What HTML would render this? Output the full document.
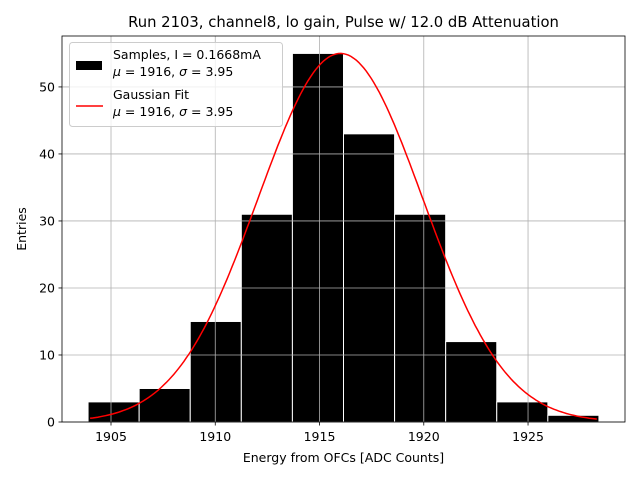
<!DOCTYPE html>
<html><head><meta charset="utf-8"><style>
body{margin:0;background:#fff}
svg text{font-family:"DejaVu Sans","Liberation Sans",sans-serif;fill:#000}
</style></head><body>
<svg id="c" width="640" height="480" xmlns="http://www.w3.org/2000/svg">
<rect width="640" height="480" fill="#fff"/>
<text x="343.5" y="27" font-size="14.8" text-anchor="middle">Run 2103, channel8, lo gain, Pulse w/ 12.0 dB Attenuation</text>
<g id="bars"></g><g id="grid"></g><g id="fit"></g><g id="axes"></g>
<g>
<rect x="69.5" y="42.5" width="213" height="84" rx="3" fill="#fff" fill-opacity="0.8" stroke="#ccc"/>
<rect x="76" y="61" width="26" height="9" fill="#000"/>
<text x="113" y="59" font-size="12.5">Samples, I = 0.1668mA</text>
<text x="113" y="76" font-size="12.5"><tspan font-style="italic">μ</tspan> = 1916, <tspan font-style="italic">σ</tspan> = 3.95</text>
<line x1="76" y1="106" x2="103" y2="106" stroke="red" stroke-width="1.5"/>
<text x="113" y="99" font-size="12.5">Gaussian Fit</text>
<text x="113" y="116" font-size="12.5"><tspan font-style="italic">μ</tspan> = 1916, <tspan font-style="italic">σ</tspan> = 3.95</text>
</g>
<text x="343.5" y="462" font-size="12.5" text-anchor="middle">Energy from OFCs [ADC Counts]</text>
<text transform="translate(26,229) rotate(-90)" font-size="12.5" text-anchor="middle">Entries</text>
</svg>
<script>
const counts=[3,5,15,31,55,43,31,12,3,1];
const binStart=1903.9;
const binWidth=2.45;
const xTicks=[1905,1910,1915,1920,1925];
const yTicks=[0,10,20,30,40,50];
const fitMu=1916.0, fitSigma=3.95, fitAmp=55;
const fitRange=[1904,1928.3];
const L=62,R=625,T=36,B=422,xmin=1902.65,xmax=1929.65,ymax=57.6;
const X=v=>L+(v-xmin)/(xmax-xmin)*(R-L);
const Y=v=>B-v/ymax*(B-T);
const NS="http://www.w3.org/2000/svg";
function mk(p,t,a){const e=document.createElementNS(NS,t);for(const k in a)e.setAttribute(k,a[k]);document.getElementById(p).appendChild(e);return e;}
counts.forEach((c,i)=>{const x0=X(binStart+i*binWidth),x1=X(binStart+(i+1)*binWidth);
const r=mk('bars','rect',{x:x0,y:Y(c),width:x1-x0,height:Y(0)-Y(c),fill:'#000',stroke:'#fff','stroke-width':1});

});
xTicks.forEach(t=>{const l=mk('grid','line',{x1:X(t),x2:X(t),y1:T,y2:B,stroke:'#b0b0b0','stroke-width':0.8});


mk('axes','line',{x1:X(t),x2:X(t),y1:B,y2:B+3.5,stroke:'#000','stroke-width':0.8});
const tx=mk('axes','text',{x:X(t),y:B+19,'font-size':12.5,'text-anchor':'middle'});tx.textContent=t;

});
yTicks.forEach(t=>{const l=mk('grid','line',{x1:L,x2:R,y1:Y(t),y2:Y(t),stroke:'#b0b0b0','stroke-width':0.8});


mk('axes','line',{x1:L-3.5,x2:L,y1:Y(t),y2:Y(t),stroke:'#000','stroke-width':0.8});
const tx=mk('axes','text',{x:L-7,y:Y(t)+4.5,'font-size':12.5,'text-anchor':'end'});tx.textContent=t;

});
let d='';for(let i=0;i<=200;i++){const v=fitRange[0]+(fitRange[1]-fitRange[0])*i/200;
const y=fitAmp*Math.exp(-0.5*((v-fitMu)/fitSigma)**2);d+=(i?'L':'M')+X(v).toFixed(1)+' '+Y(y).toFixed(1);}
const p=mk('fit','path',{d:d,fill:'none',stroke:'red','stroke-width':1.5});


const f=mk('axes','rect',{x:L,y:T,width:R-L,height:B-T,fill:'none',stroke:'#000','stroke-width':0.8});


</script>
</body></html>
